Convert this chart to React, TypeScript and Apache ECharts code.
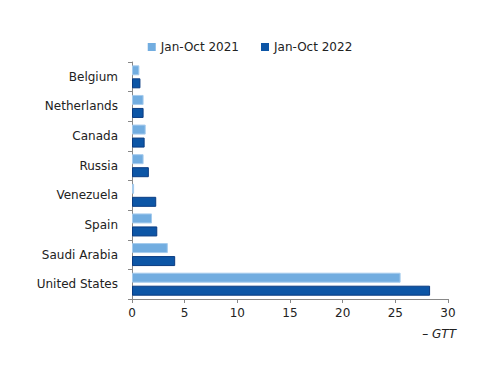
import React, { useEffect, useRef } from "react";
import * as echarts from "echarts";

const categories = ["United States", "Saudi Arabia", "Spain", "Venezuela", "Russia", "Canada", "Netherlands", "Belgium"];
const values2021 = [25.5, 3.4, 1.9, 0.2, 1.1, 1.3, 1.1, 0.7];
const values2022 = [28.3, 4.1, 2.4, 2.3, 1.6, 1.2, 1.1, 0.8];
const seriesNames = ["Jan-Oct 2021", "Jan-Oct 2022"];
const xTicks = { min: 0, max: 30, interval: 5 };

const FONT = "DejaVu Sans";

export default function App() {
  const ref = useRef<HTMLDivElement>(null);
  useEffect(() => {
    if (!ref.current) return;
    const chart = echarts.init(ref.current, undefined, { renderer: "svg" });
    chart.setOption({
      animation: false,
      backgroundColor: "#ffffff",
      textStyle: { fontFamily: FONT },
      legend: {
        data: seriesNames,
        top: 36,
        left: "center",
        itemWidth: 8,
        itemHeight: 8,
        itemGap: 22,
        icon: "rect",
        itemStyle: { borderWidth: 0 },
        textStyle: { fontFamily: FONT, fontSize: 12, color: "#222" },
      },
      grid: { left: 132, right: 52, top: 62, bottom: 87, containLabel: false },
      xAxis: {
        type: "value",
        min: xTicks.min,
        max: xTicks.max,
        interval: xTicks.interval,
        axisLine: { show: true, lineStyle: { color: "#888" } },
        axisTick: { show: true, length: 4, lineStyle: { color: "#888" } },
        splitLine: { show: false },
        axisLabel: { fontFamily: FONT, fontSize: 12, color: "#222", margin: 8 },
      },
      yAxis: {
        type: "category",
        data: categories,
        axisLine: { show: true, lineStyle: { color: "#888" } },
        axisTick: { show: true, length: 4, lineStyle: { color: "#888" } },
        axisLabel: { fontFamily: FONT, fontSize: 12, color: "#222", margin: 14 },
      },
      graphic: [
        {
          type: "text",
          right: 44,
          top: 328,
          style: { text: "– GTT", font: "italic 12px DejaVu Sans", fill: "#222" },
        },
      ],
      series: [
        {
          name: seriesNames[0],
          type: "bar",
          data: values2021,
          barWidth: 10,
          barGap: "30%",
          itemStyle: { color: "#72ade0", borderColor: "#a5cbed", borderWidth: 1 },
        },
        {
          name: seriesNames[1],
          type: "bar",
          data: values2022,
          barWidth: 10,
          barGap: "30%",
          itemStyle: { color: "#0d56a6", borderColor: "#0a3b82", borderWidth: 1 },
        },
      ],
    });
    return () => chart.dispose();
  }, []);
  return <div ref={ref} style={{ width: 500, height: 386, margin: -8 }} />;
}
